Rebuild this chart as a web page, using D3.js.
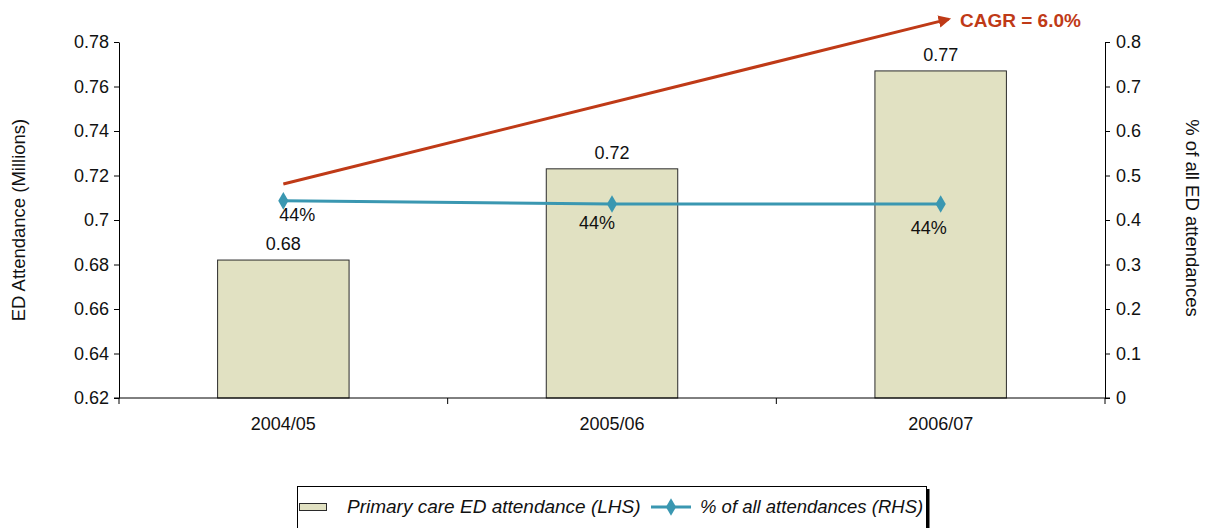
<!DOCTYPE html>
<html>
<head>
<meta charset="utf-8">
<script src="https://cdn.jsdelivr.net/npm/d3@7/dist/d3.min.js"></script>
<style>
  html, body { margin: 0; padding: 0; background: #fff; }
  svg { display: block; font-family: "Liberation Sans", Arial, sans-serif; }
</style>
</head>
<body>
<svg id="chart" width="1209" height="528"></svg>
<script>
// Financial years on the category axis
const categories = ["2004/05", "2005/06", "2006/07"];
// Primary care ED attendance, millions (left axis)
const attendance = [0.682, 0.723, 0.767];
const attendanceLabels = ["0.68", "0.72", "0.77"];
// Share of all ED attendances (right axis)
const share = [0.443, 0.436, 0.436];
const shareLabels = ["44%", "44%", "44%"];
// Axis ticks
const leftTicks = [0.62, 0.64, 0.66, 0.68, 0.70, 0.72, 0.74, 0.76, 0.78];
const leftTickLabels = ["0.62", "0.64", "0.66", "0.68", "0.7", "0.72", "0.74", "0.76", "0.78"];
const rightTicks = [0, 0.1, 0.2, 0.3, 0.4, 0.5, 0.6, 0.7, 0.8];
const rightTickLabels = ["0", "0.1", "0.2", "0.3", "0.4", "0.5", "0.6", "0.7", "0.8"];
// Growth annotation
const cagrLabel = "CAGR = 6.0%";
const cagrTrend = [0.7162, 0.7903];

(function draw() {
  const svg = d3.select("#chart");
  const pl = 119, pr = 1105, pt = 42, pb = 398;
  const fs = 18;

  const x = d3.scaleBand().domain(categories).range([pl, pr])
    .paddingInner(0.6).paddingOuter(0.3);
  const yL = d3.scaleLinear().domain([0.62, 0.78]).range([pb, pt]);
  const yR = d3.scaleLinear().domain([0, 0.8]).range([pb, pt]);
  const cx = c => x(c) + x.bandwidth() / 2;

  const barFill = "#e1e1c2", lineColor = "#3a97b1", red = "#bf3a17";

  // Bars
  svg.append("g").selectAll("rect").data(categories).join("rect")
    .attr("x", c => x(c)).attr("width", x.bandwidth())
    .attr("y", (c, i) => yL(attendance[i]))
    .attr("height", (c, i) => pb - yL(attendance[i]))
    .attr("fill", barFill).attr("stroke", "#2a2a2a").attr("stroke-width", 1);

  // Bar value labels
  svg.append("g").selectAll("text").data(categories).join("text")
    .attr("x", c => cx(c)).attr("y", (c, i) => yL(attendance[i]) - 10)
    .attr("text-anchor", "middle").attr("font-size", fs).attr("fill", "#111")
    .text((c, i) => attendanceLabels[i]);

  // Left axis
  const axL = svg.append("g").attr("transform", `translate(${pl},0)`)
    .call(d3.axisLeft(yL).tickValues(leftTicks).tickSize(5).tickSizeOuter(0)
      .tickFormat((d, i) => leftTickLabels[i]));
  axL.selectAll("text").attr("font-size", fs).attr("fill", "#111").attr("font-family", "Liberation Sans, Arial, sans-serif").attr("dx", -2);
  axL.selectAll("line, path").attr("stroke", "#000");

  // Right axis
  const axR = svg.append("g").attr("transform", `translate(${pr},0)`)
    .call(d3.axisRight(yR).tickValues(rightTicks).tickSize(5).tickSizeOuter(0)
      .tickFormat((d, i) => rightTickLabels[i]));
  axR.selectAll("text").attr("font-size", fs).attr("fill", "#111").attr("font-family", "Liberation Sans, Arial, sans-serif").attr("dx", 3);
  axR.selectAll("line, path").attr("stroke", "#000");

  // Category axis: ticks sit on the band boundaries
  const boundaries = categories.map(c => x(c) - x.step() * 0.3).concat([pr]);
  const gx = svg.append("g");
  gx.append("line").attr("x1", pl - 5).attr("x2", pr + 5).attr("y1", pb).attr("y2", pb)
    .attr("stroke", "#000");
  gx.selectAll("line.tick").data(boundaries).join("line").attr("class", "tick")
    .attr("x1", d => d).attr("x2", d => d).attr("y1", pb).attr("y2", pb + 6)
    .attr("stroke", "#000");
  gx.selectAll("text").data(categories).join("text")
    .attr("x", c => cx(c)).attr("y", pb + 32).attr("text-anchor", "middle")
    .attr("font-size", fs).attr("fill", "#111").text(c => c);

  // Axis titles
  svg.append("text").attr("transform", `translate(25,${(pt + pb) / 2}) rotate(-90)`)
    .attr("text-anchor", "middle").attr("font-size", 18.5).attr("fill", "#111")
    .text("ED Attendance (Millions)");
  svg.append("text").attr("transform", `translate(1186,${(pt + pb) / 2 - 2}) rotate(90)`)
    .attr("text-anchor", "middle").attr("font-size", 18.5).attr("fill", "#111")
    .text("% of all ED attendances");

  // CAGR trend arrow
  svg.append("defs").append("marker").attr("id", "arrow")
    .attr("viewBox", "0 0 10 10").attr("refX", 8).attr("refY", 5)
    .attr("markerWidth", 4.2).attr("markerHeight", 4.2).attr("orient", "auto")
    .append("path").attr("d", "M0,0 L10,5 L0,10 z").attr("fill", red);
  svg.append("line")
    .attr("x1", cx(categories[0])).attr("y1", yL(cagrTrend[0]))
    .attr("x2", cx(categories[2]) + 8).attr("y2", yL(cagrTrend[1]))
    .attr("stroke", red).attr("stroke-width", 3).attr("marker-end", "url(#arrow)");
  svg.append("text").attr("x", 960).attr("y", 27).attr("font-size", 19).attr("font-weight", "bold")
    .attr("fill", red).text(cagrLabel);

  // Share line with diamond markers
  const line = d3.line().x((d, i) => cx(categories[i])).y(d => yR(d));
  svg.append("path").datum(share).attr("d", line).attr("fill", "none")
    .attr("stroke", lineColor).attr("stroke-width", 3);
  const diamond = d3.symbol().type(d3.symbolDiamond).size(90);
  svg.append("g").selectAll("path").data(share).join("path")
    .attr("d", diamond)
    .attr("transform", (d, i) => `translate(${cx(categories[i])},${yR(d)})`)
    .attr("fill", lineColor);

  // Share labels, nudged clear of the bars and line
  const nudges = [[14, 20], [-15, 25], [-12, 30]];
  svg.append("g").selectAll("text").data(share).join("text")
    .attr("x", (d, i) => cx(categories[i]) + nudges[i][0])
    .attr("y", (d, i) => yR(d) + nudges[i][1])
    .attr("text-anchor", "middle").attr("font-size", fs).attr("fill", "#111")
    .text((d, i) => shareLabels[i]);

  // Legend
  const lg = svg.append("g");
  lg.append("rect").attr("x", 297.5).attr("y", 486.5).attr("width", 629).attr("height", 50)
    .attr("fill", "#fff").attr("stroke", "#000").attr("stroke-width", 1);
  lg.append("line").attr("x1", 928).attr("x2", 928).attr("y1", 489).attr("y2", 528)
    .attr("stroke", "#000").attr("stroke-width", 3);
  lg.append("rect").attr("x", 299.5).attr("y", 503.5).attr("width", 27).attr("height", 7)
    .attr("fill", barFill).attr("stroke", "#2a2a2a");
  lg.append("text").attr("x", 347).attr("y", 513).attr("font-size", 19).attr("font-style", "italic")
    .attr("fill", "#111").text("Primary care ED attendance (LHS)");
  lg.append("line").attr("x1", 651).attr("x2", 691).attr("y1", 507).attr("y2", 507)
    .attr("stroke", lineColor).attr("stroke-width", 3);
  lg.append("path").attr("d", diamond).attr("transform", "translate(671,507)").attr("fill", lineColor);
  lg.append("text").attr("x", 700).attr("y", 513).attr("font-size", 18.5).attr("font-style", "italic")
    .attr("fill", "#111").text("% of all attendances (RHS)");
})();
</script>
</body>
</html>
